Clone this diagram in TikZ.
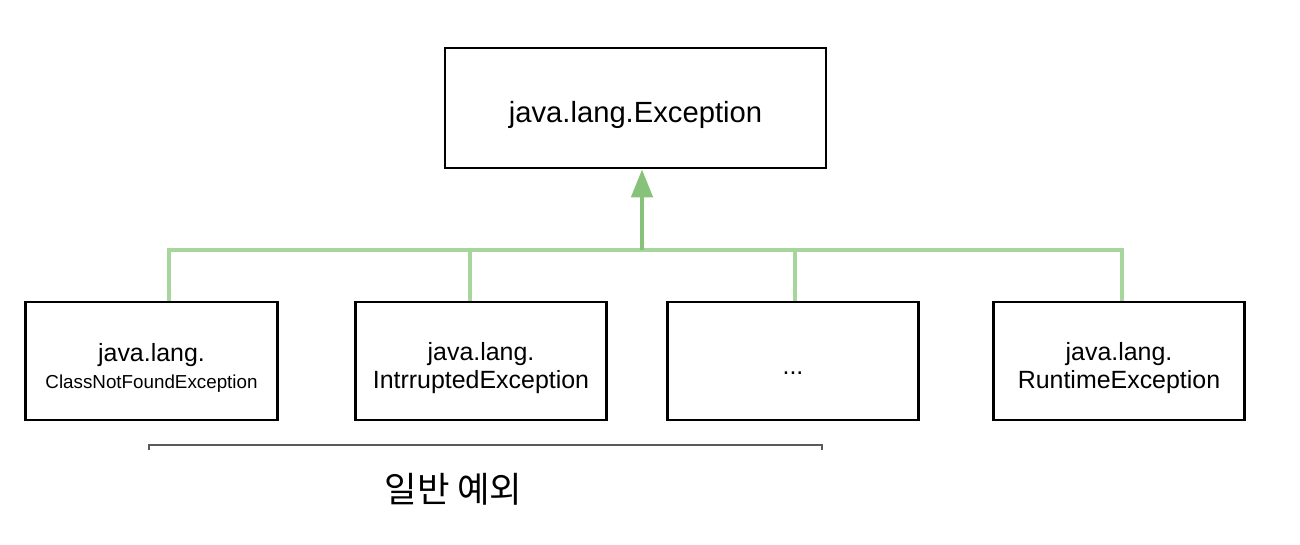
\documentclass[tikz,border=0pt]{standalone}
\usepackage{fontspec}
\setmainfont{Liberation Sans}
\newfontfamily\krfont{Noto Sans CJK KR}
\usetikzlibrary{arrows.meta}
\definecolor{busgreen}{HTML}{A6D69C}
\definecolor{arrgreen}{HTML}{86C27A}
\definecolor{brk}{HTML}{5A5A5A}
\begin{document}
\begin{tikzpicture}[x=0.75pt,y=-0.75pt,
  cls/.style={draw=black,line width=2.2pt,inner sep=0pt,
    minimum width=188.5pt,minimum height=88.5pt},
  topcls/.style={cls,minimum width=285.75pt,minimum height=90pt},
  txt/.style={align=center,inner sep=0pt,yshift=-5pt,
    font=\fontsize{18.7}{21}\selectfont},
  toptxt/.style={txt,font=\fontsize{21.9}{26}\selectfont},
  bus/.style={draw=busgreen,line width=2.6pt},
  up/.style={draw=arrgreen,line width=3pt,
    -{Triangle[length=21pt,width=16pt]}},
  brace/.style={draw=brk,line width=1.4pt}]
\useasboundingbox (0,0) rectangle (1300,544);

\node[topcls,label={[toptxt]center:java.lang.Exception}] (exc) at (635.5,108) {};
\node[cls,label={[txt]center:java.lang.\\[-1pt]{\fontsize{14.1}{17}\selectfont ClassNotFoundException}}] (b1) at (151.5,361) {};
\node[cls,label={[txt]center:java.lang.\\IntrruptedException}] (b2) at (481,361) {};
\node[cls,label={[txt,yshift=-4pt]center:...}] (b3) at (793,361) {};
\node[cls,label={[txt]center:java.lang.\\RuntimeException}] (b4) at (1119,361) {};

\coordinate (j1) at (169,250);
\coordinate (j2) at (470,250);
\coordinate (ja) at (642,250);
\coordinate (j3) at (795,250);
\coordinate (j4) at (1122,250);

\draw[bus] (j1 |- b1.north) -- (j1) -- (j4) -- (j4 |- b4.north);
\draw[bus] (j2) -- (j2 |- b2.north);
\draw[bus] (j3) -- (j3 |- b3.north);
\draw[up] (ja) -- (ja |- exc.south);

\coordinate (bl) at (149,445);
\coordinate (br) at (822,445);
\draw[brace] ([yshift=-4pt]bl) -- (bl) -- (br) -- ([yshift=-4pt]br);
\node[font=\krfont\fontsize{26.5}{30}\selectfont] (lbl) at (453.5,489) {일반 예외};
\end{tikzpicture}
\end{document}
